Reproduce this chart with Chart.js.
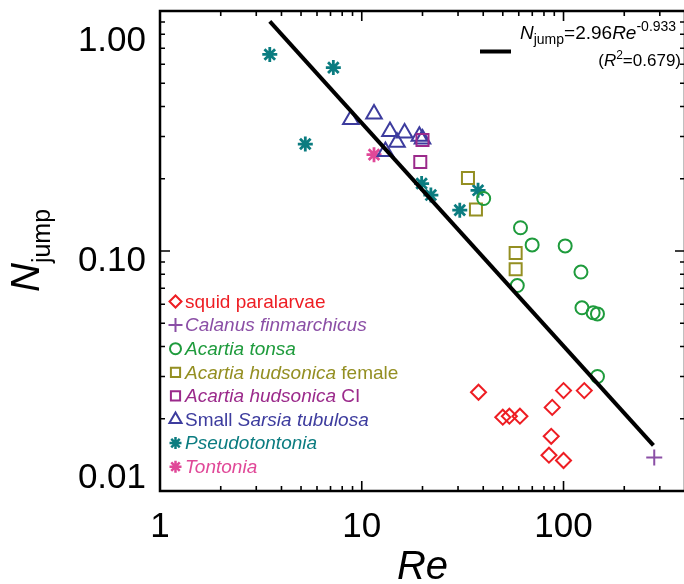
<!DOCTYPE html>
<html>
<head>
<meta charset="utf-8">
<script src="https://cdn.jsdelivr.net/npm/chart.js@4/dist/chart.umd.min.js"></script>
<style>
html, body { margin: 0; padding: 0; overflow: hidden; background: #fff; }
#wrap { width: 684px; height: 584px; overflow: hidden; }
</style>
</head>
<body>
<div id="wrap"><canvas id="chart" width="700" height="584"></canvas></div>
<script>
// values (Re, N_jump)
const squidRe = [37.9, 50.0, 53.9, 60.8, 87.9, 100, 126.7, 86.9, 84.7, 100];
const squidN = [0.0258, 0.0203, 0.0205, 0.0205, 0.0223, 0.0262, 0.0262, 0.0169, 0.0141, 0.0134];
const calanusRe = [281.6];
const calanusN = [0.0138];
const tonsaRe = [40.2, 61.2, 69.9, 101.9, 122, 59.0, 123.4, 140.2, 147.3, 147.3];
const tonsaN = [0.1655, 0.125, 0.106, 0.105, 0.0817, 0.0718, 0.058, 0.0553, 0.0547, 0.030];
const hudFemaleRe = [33.6, 36.8, 57.9, 57.9];
const hudFemaleN = [0.2015, 0.149, 0.098, 0.084];
const hudCIRe = [20.0, 19.5];
const hudCIN = [0.290, 0.235];
const sarsiaRe = [8.83, 11.5, 13.8, 16.3, 14.95, 13.1, 19.3, 20.0];
const sarsiaN = [0.353, 0.372, 0.315, 0.310, 0.284, 0.260, 0.301, 0.293];
const pseudoRe = [3.5, 7.23, 5.25, 19.8, 22.0, 30.6, 37.7];
const pseudoN = [0.659, 0.581, 0.279, 0.191, 0.171, 0.148, 0.179];
const tontoniaRe = [11.5];
const tontoniaN = [0.252];
// fitted power law, end points as drawn
const fitRe = [3.5, 279];
const fitN = [0.906, 0.0155];

const xTicks = [1, 2, 3, 4, 5, 6, 7, 8, 9, 10, 20, 30, 40, 50, 60, 70, 80, 90, 100, 200, 300, 400];
const yTicks = [0.01, 0.02, 0.03, 0.04, 0.05, 0.06, 0.07, 0.08, 0.09, 0.1, 0.2, 0.3, 0.4, 0.5, 0.6, 0.7, 0.8, 0.9, 1];
const xLabelVals = [1, 10, 100];
const xLabelText = ['1', '10', '100'];
const yLabelVals = [0.01, 0.1, 1];
const yLabelText = ['0.01', '0.10', '1.00'];

const FONT = "'Liberation Sans', Arial, Helvetica, sans-serif";
const RED = '#ee1d23';
const PURPLE = '#8b4fa6';
const GREEN = '#1e9b3c';
const OLIVE = '#948f22';
const MAGENTA = '#9b2a8b';
const BLUE = '#3d3c9e';
const TEAL = '#0b7c80';
const PINK = '#e04898';

function pts(xs, ys) {
	return xs.map((x, i) => ({ x: x, y: ys[i] }));
}

function series(data, color, style, radius, width) {
	return {
		data: data,
		pointStyle: style,
		pointRadius: radius,
		pointHoverRadius: radius,
		pointBorderWidth: width || 2,
		borderColor: color,
		backgroundColor: 'rgba(0,0,0,0)',
		showLine: false
	};
}

// legend rows: [text, italic]
const legendRows = [
	{ style: 'rectRot', color: RED, r: 6, parts: [['squid paralarvae', false]] },
	{ style: 'cross', color: PURPLE, r: 7, parts: [['Calanus finmarchicus', true]] },
	{ style: 'circle', color: GREEN, r: 5.5, parts: [['Acartia tonsa', true]] },
	{ style: 'rect', color: OLIVE, r: 6.5, parts: [['Acartia hudsonica', true], [' female', false]] },
	{ style: 'rect', color: MAGENTA, r: 6.5, parts: [['Acartia hudsonica', true], [' CI', false]] },
	{ style: 'triangle', color: BLUE, r: 7, parts: [['Small ', false], ['Sarsia tubulosa', true]] },
	{ style: 'star', color: TEAL, r: 6, parts: [['Pseudotontonia', true]] },
	{ style: 'star', color: PINK, r: 6, parts: [['Tontonia', true]] }
];

function drawRuns(ctx, runs, x, y) {
	runs.forEach(function(r) {
		ctx.font = r.font;
		ctx.fillText(r.t, x, y + (r.dy || 0));
		x += ctx.measureText(r.t).width;
	});
	return x;
}

function runsWidth(ctx, runs) {
	let w = 0;
	runs.forEach(function(r) {
		ctx.font = r.font;
		w += ctx.measureText(r.t).width;
	});
	return w;
}

const framePlugin = {
	id: 'frame',
	beforeDatasetsDraw(chart) {
		const ctx = chart.ctx;
		const a = chart.chartArea;
		const xs = chart.scales.x;
		const ys = chart.scales.y;
		ctx.save();
		ctx.strokeStyle = '#000';
		ctx.lineWidth = 2.5;
		ctx.strokeRect(a.left, a.top, a.right - a.left, a.bottom - a.top);
		ctx.lineWidth = 1.6;
		ctx.beginPath();
		xs.ticks.forEach(function(t) {
			const px = xs.getPixelForValue(t.value);
			const len = xLabelVals.indexOf(t.value) >= 0 ? 10 : 5;
			ctx.moveTo(px, a.bottom);
			ctx.lineTo(px, a.bottom - len);
			ctx.moveTo(px, a.top);
			ctx.lineTo(px, a.top + len);
		});
		ys.ticks.forEach(function(t) {
			const py = ys.getPixelForValue(t.value);
			const len = yLabelVals.indexOf(t.value) >= 0 ? 10 : 5;
			ctx.moveTo(a.left, py);
			ctx.lineTo(a.left + len, py);
			ctx.moveTo(a.right, py);
			ctx.lineTo(a.right - len, py);
		});
		ctx.stroke();
		ctx.restore();
	},
	afterDraw(chart) {
		const ctx = chart.ctx;
		const a = chart.chartArea;
		const ys = chart.scales.y;
		ctx.save();

		// y tick labels
		ctx.fillStyle = '#000';
		ctx.font = '35px ' + FONT;
		ctx.textAlign = 'right';
		ctx.textBaseline = 'middle';
		yLabelVals.forEach(function(v, i) {
			let py = ys.getPixelForValue(v) + 10;
			py = Math.min(Math.max(py, a.top + 30), a.bottom - 13);
			ctx.fillText(yLabelText[i], 146, py);
		});

		// y title N_jump
		ctx.textAlign = 'left';
		ctx.textBaseline = 'alphabetic';
		ctx.save();
		ctx.translate(39, 292);
		ctx.rotate(-Math.PI / 2);
		drawRuns(ctx, [
			{ t: 'N', font: 'italic 40px ' + FONT },
			{ t: 'jump', font: '25px ' + FONT, dy: 11 }
		], 0, 0);
		ctx.restore();

		// species legend
		const drawPoint = Chart.helpers && Chart.helpers.drawPoint;
		legendRows.forEach(function(row, i) {
			const cy = 301.5 + i * 23.6;
			ctx.strokeStyle = row.color;
			ctx.fillStyle = 'rgba(0,0,0,0)';
			ctx.lineWidth = row.style === 'star' ? 2.5 : 2;
			if (drawPoint) {
				drawPoint(ctx, { pointStyle: row.style, rotation: 0, radius: row.r, borderWidth: ctx.lineWidth }, 175.5, cy);
			}
			ctx.fillStyle = row.color;
			ctx.textBaseline = 'middle';
			let x = 185;
			row.parts.forEach(function(p) {
				ctx.font = (p[1] ? 'italic ' : '') + '19px ' + FONT;
				ctx.fillText(p[0], x, cy + 1);
				x += ctx.measureText(p[0]).width;
			});
		});

		// fit legend, top right
		ctx.strokeStyle = '#000';
		ctx.lineWidth = 4;
		ctx.beginPath();
		ctx.moveTo(480, 51.5);
		ctx.lineTo(511, 51.5);
		ctx.stroke();
		ctx.fillStyle = '#000';
		ctx.textBaseline = 'alphabetic';
		drawRuns(ctx, [
			{ t: 'N', font: 'italic 19px ' + FONT },
			{ t: 'jump', font: '14px ' + FONT, dy: 5 },
			{ t: '=2.96', font: '19px ' + FONT },
			{ t: 'Re', font: 'italic 19px ' + FONT },
			{ t: '-0.933', font: '14px ' + FONT, dy: -8 }
		], 520, 39);
		const line2 = [
			{ t: '(', font: '17px ' + FONT },
			{ t: 'R', font: 'italic 17px ' + FONT },
			{ t: '2', font: '12px ' + FONT, dy: -7 },
			{ t: '=0.679)', font: '17px ' + FONT }
		];
		drawRuns(ctx, line2, 681 - runsWidth(ctx, line2), 66);
		ctx.restore();
	}
};

const ctx = document.getElementById('chart').getContext('2d');
const chart = new Chart(ctx, {
	type: 'scatter',
	data: {
		datasets: [
			{
				data: pts(fitRe, fitN),
				showLine: true,
				borderColor: '#000',
				borderWidth: 4,
				pointRadius: 0,
				pointHoverRadius: 0,
				fill: false
			},
			series(pts(squidRe, squidN), RED, 'rectRot', 7.5),
			series(pts(calanusRe, calanusN), PURPLE, 'cross', 8),
			series(pts(tonsaRe, tonsaN), GREEN, 'circle', 6.5),
			series(pts(hudFemaleRe, hudFemaleN), OLIVE, 'rect', 8.5),
			series(pts(hudCIRe, hudCIN), MAGENTA, 'rect', 8.5),
			series(pts(sarsiaRe, sarsiaN), BLUE, 'triangle', 9),
			series(pts(pseudoRe, pseudoN), TEAL, 'star', 7.5, 2.8),
			series(pts(tontoniaRe, tontoniaN), PINK, 'star', 7.5, 2.8)
		]
	},
	options: {
		responsive: false,
		devicePixelRatio: 1,
		animation: false,
		layout: { padding: { top: 8, right: 10, left: 0, bottom: 0 } },
		plugins: { legend: { display: false }, tooltip: { enabled: false } },
		scales: {
			x: {
				type: 'logarithmic',
				min: 1,
				max: 400,
				grid: { display: false, drawTicks: false },
				border: { display: false },
				afterBuildTicks: function(s) {
					s.ticks = xTicks.map(v => ({ value: v }));
				},
				afterFit: function(s) {
					s.height = 93;
				},
				ticks: {
					autoSkip: false,
					maxRotation: 0,
					padding: 15,
					color: '#000',
					font: { family: FONT, size: 35 },
					callback: function(v) {
						const i = xLabelVals.indexOf(v);
						return i >= 0 ? xLabelText[i] : '';
					}
				},
				title: {
					display: true,
					text: 'Re',
					color: '#000',
					padding: { top: 0, bottom: -8 },
					font: { family: FONT, size: 40, style: 'italic' }
				}
			},
			y: {
				type: 'logarithmic',
				min: 0.01,
				max: 1,
				grid: { display: false, drawTicks: false },
				border: { display: false },
				afterBuildTicks: function(s) {
					s.ticks = yTicks.map(v => ({ value: v }));
				},
				afterFit: function(s) {
					s.width = 160;
				},
				ticks: { display: false }
			}
		}
	},
	plugins: [framePlugin]
});
</script>
</body>
</html>
